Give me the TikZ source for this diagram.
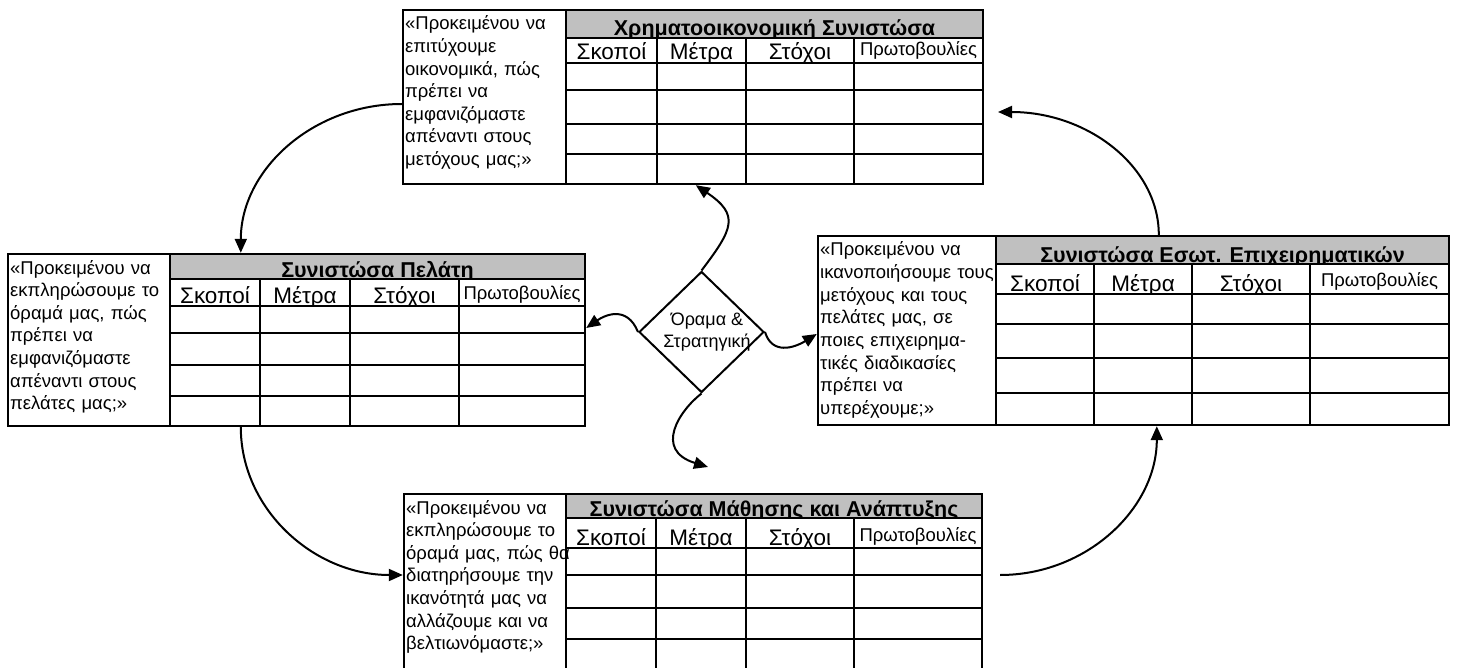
\documentclass[tikz,border=0pt]{standalone}
\usepackage{fontspec}
\setmainfont{Liberation Sans}
\usetikzlibrary{arrows.meta,shapes.geometric,fit}
\definecolor{hdrgray}{RGB}{192,192,192}
\tikzset{
  boxline/.style={draw=black, line width=2.4pt},
  gridline/.style={draw=black, line width=1.8pt},
  qtext/.style={anchor=base west, inner sep=0pt, text width=240pt, align=left,
    font=\fontsize{18.5}{22.6}\selectfont},
  hdrtext/.style={anchor=base, inner sep=0pt, font=\fontsize{21.5}{24}\selectfont\bfseries},
  coltext/.style={anchor=base, inner sep=0pt, font=\fontsize{22.5}{25}\selectfont},
  coltextsm/.style={anchor=base, inner sep=0pt, font=\fontsize{18.5}{22}\selectfont},
  conn/.style={line width=2pt, -{Triangle[length=14pt,width=12pt]}},
}
\newcommand{\bsctable}[3]{%
  \fill[hdrgray] (\bscQ,\bscT) rectangle (\bscR,\bscHB);
  \begin{scope}
    \clip (\bscQ,\bscT) rectangle (\bscR,\bscHB);
    \node[hdrtext] (#1-h) at ({(\bscQ+\bscR)/2},{\bscHB-2}) {#3};
  \end{scope}
  \begin{scope}
    \clip (\bscQ,\bscHB) rectangle (\bscR,\bscCB);
    \node[coltext] (#1-c1) at ({(\bscQ+\bscSa)/2},{\bscCB-3}) {Σκοποί};
    \node[coltext] (#1-c2) at ({(\bscSa+\bscSb)/2},{\bscCB-3}) {Μέτρα};
    \node[coltext] (#1-c3) at ({(\bscSb+\bscSc)/2},{\bscCB-3}) {Στόχοι};
    \node[coltextsm] (#1-c4) at ({(\bscSc+\bscR)/2},{\bscCB-7}) {Πρωτοβουλίες};
  \end{scope}
  \foreach \yy in \bscHL {\draw[gridline] (\bscQ,\yy) -- (\bscR,\yy);}
  \foreach \xx in {\bscSa,\bscSb,\bscSc} {\draw[gridline] (\xx,\bscHB) -- (\xx,\bscB);}
  \draw[gridline] (\bscQ,\bscT) -- (\bscQ,\bscB);
  \node[qtext] (#1-q) at ({\bscL+2},{\bscT+20}) {#2};
  \node[fit={(\bscL,\bscT) (\bscR,\bscB)}, inner sep=0pt, boxline] (#1) {};
}
\begin{document}
\begin{tikzpicture}[x=1pt,y=-1pt]
\useasboundingbox (0,0) rectangle (1458,668);

% Financial (top)
\def\bscL{403}\def\bscQ{566}\def\bscSa{657}\def\bscSb{746}\def\bscSc{854}\def\bscR{983}
\def\bscT{10}\def\bscHB{38}\def\bscCB{63}\def\bscB{184}\def\bscHL{38,63,90,124,154}
\bsctable{fin}{«Προκειμένου να\\επιτύχουμε\\οικονομικά, πώς\\πρέπει να\\εμφανιζόμαστε\\απέναντι στους\\μετόχους μας;»}{Χρηματοοικονομική Συνιστώσα}

% Customer (left)
\def\bscL{8}\def\bscQ{170}\def\bscSa{260}\def\bscSb{350}\def\bscSc{459}\def\bscR{585}
\def\bscT{254}\def\bscHB{279}\def\bscCB{306}\def\bscB{426}\def\bscHL{279,306,333,365,396}
\bsctable{cus}{«Προκειμένου να\\εκπληρώσουμε το\\όραμά μας, πώς\\πρέπει να\\εμφανιζόμαστε\\απέναντι στους\\πελάτες μας;»}{Συνιστώσα Πελάτη}

% Internal (right)
\def\bscL{818}\def\bscQ{996}\def\bscSa{1094}\def\bscSb{1192}\def\bscSc{1310}\def\bscR{1449}
\def\bscT{236}\def\bscHB{264}\def\bscCB{294}\def\bscB{425}\def\bscHL{264,294,324,358,393}
\bsctable{int}{«Προκειμένου να\\ικανοποιήσουμε τους\\μετόχους και τους\\πελάτες μας, σε\\ποιες επιχειρημα-\\τικές διαδικασίες\\πρέπει να\\υπερέχουμε;»}{Συνιστώσα Εσωτ. Επιχειρηματικών}

% Learning (bottom)
\def\bscL{404}\def\bscQ{566}\def\bscSa{656}\def\bscSb{746}\def\bscSc{854}\def\bscR{982}
\def\bscT{494}\def\bscHB{518}\def\bscCB{548}\def\bscB{672}\def\bscHL{518,548,575,608,639}
\bsctable{lrn}{«Προκειμένου να\\εκπληρώσουμε το\\όραμά μας, πώς θα\\διατηρήσουμε την\\ικανότητά μας να\\αλλάζουμε και να\\βελτιωνόμαστε;»}{Συνιστώσα Μάθησης και Ανάπτυξης}

% Vision diamond
\node[diamond, draw, line width=2pt, minimum width=125pt, minimum height=121pt, inner sep=0pt] (vis) at (701.5,332) {};
\node[inner sep=0pt, align=center, font=\fontsize{18}{22}\selectfont] (vistxt) at (707,332) {Όραμα \&\\Στρατηγική};

% connectors from the diamond
\coordinate (vdown) at (708,467);
\draw[conn] (vis.north) .. controls (733,229) and (740,215) .. ([xshift=294pt]fin.south west);
\draw[conn] (vis.west) .. controls (627,305) and (605,315) .. ([yshift=12pt]cus.east);
\draw[conn] (vis.east) .. controls (772,355) and (794,348) .. ([yshift=-3.5pt]int.west);
\draw[conn] (vis.south) .. controls (680,410) and (653,450) .. (vdown);

% outer cycle
\coordinate (a3s) at (1000,575);
\coordinate (a4e) at (998,112);
\draw[conn] ([yshift=-7pt]fin.west) .. controls +(-89,0) and +(0,-83) .. ([xshift=234pt]cus.north west);
\draw[conn] ([xshift=234pt]cus.south west) .. controls +(0,82) and +(-89,0) .. ([yshift=8pt]lrn.west);
\draw[conn] (a3s) .. controls +(87,0) and +(0,82) .. ([xshift=340pt]int.south west);
\draw[conn] ([xshift=342pt]int.north west) .. controls +(0,-68) and +(90,0) .. (a4e);
\end{tikzpicture}
\end{document}
